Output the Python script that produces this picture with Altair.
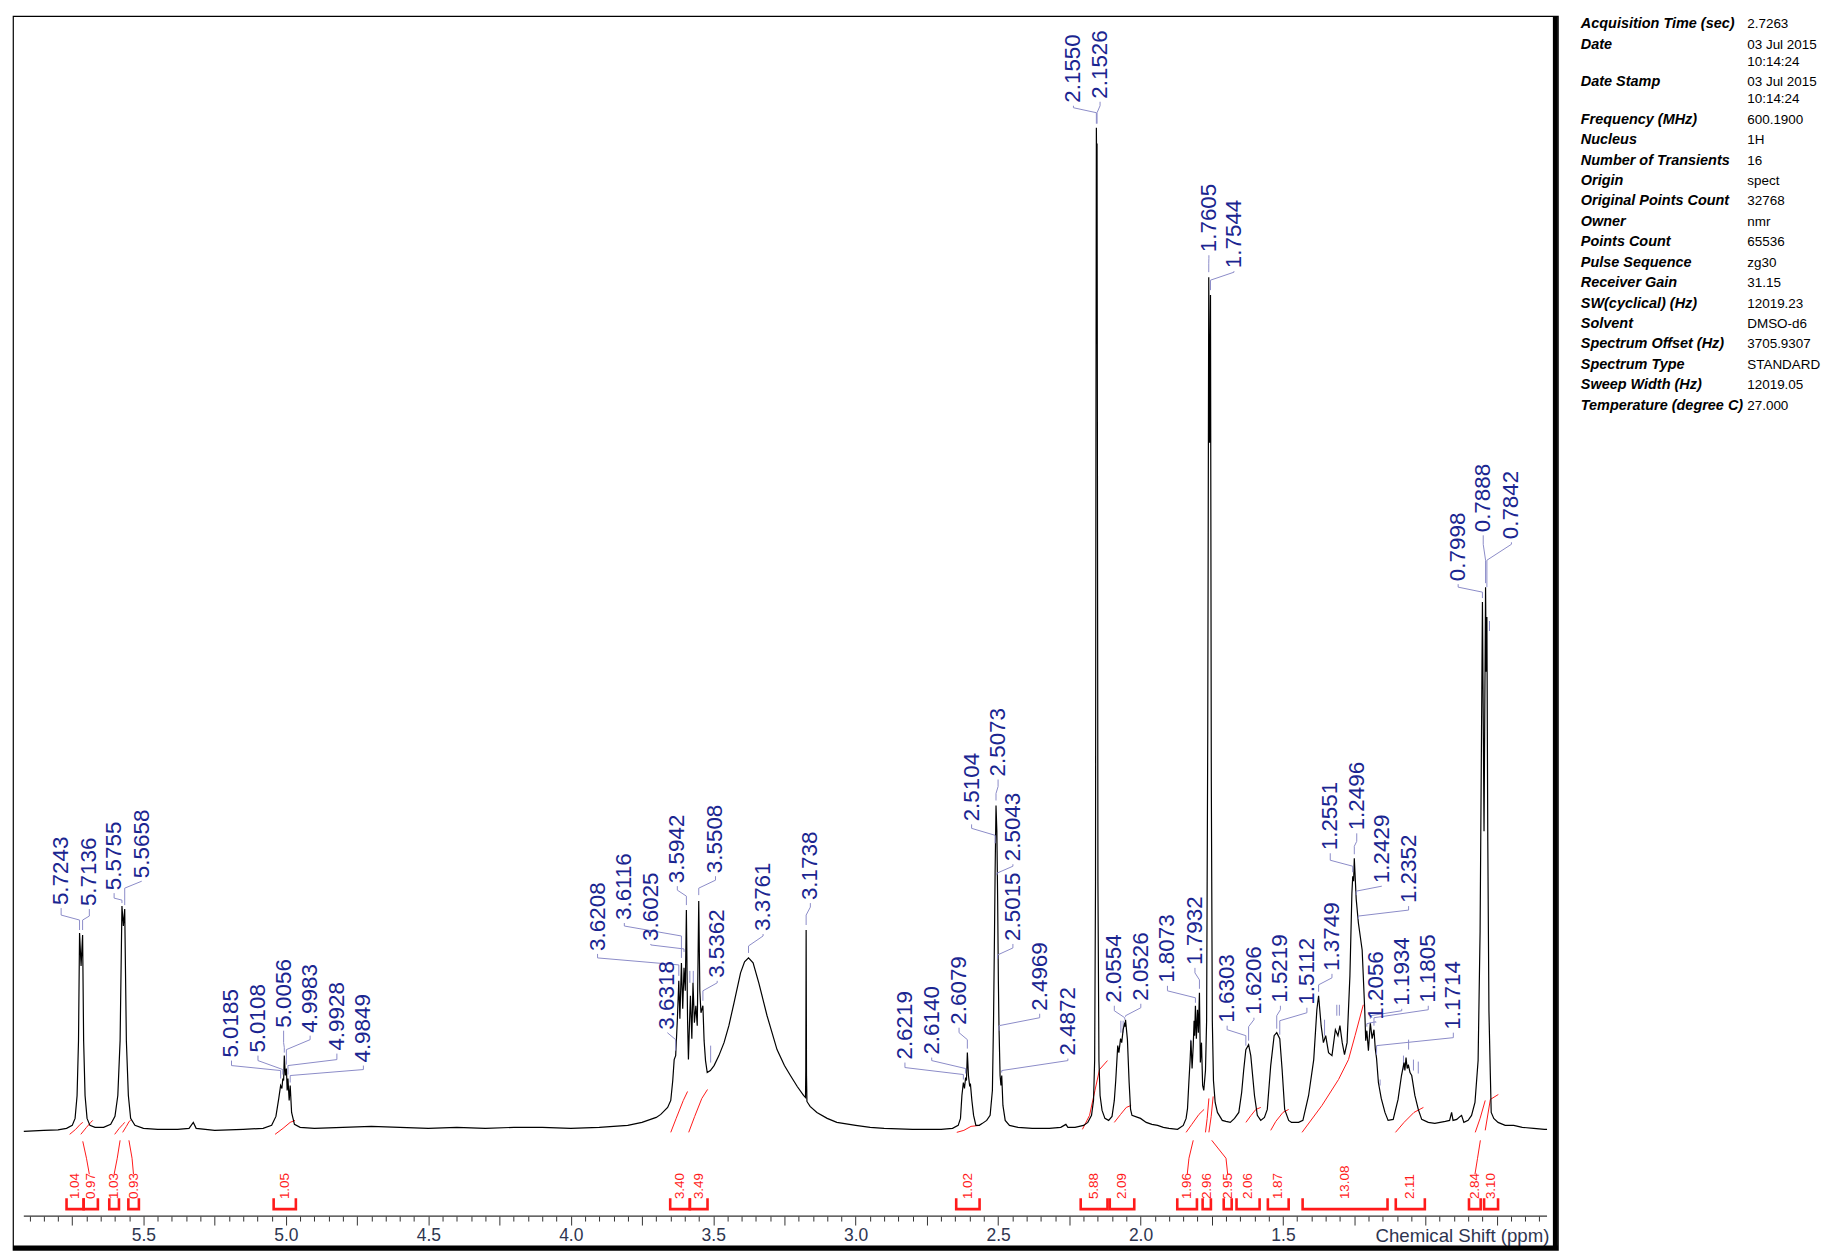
import altair as alt
import pandas as pd

# ---------------- spectrum trace (ppm, intensity) ----------------
spec_ppm = [5.920, 5.850, 5.800, 5.770, 5.750, 5.740, 5.733, 5.728, 5.7243, 5.7190, 5.7136, 5.7100,
            5.7050, 5.698, 5.688, 5.670, 5.640, 5.615, 5.600, 5.590, 5.582, 5.5755, 5.5705, 5.5658,
            5.560, 5.553, 5.545, 5.530, 5.500, 5.450, 5.380, 5.340, 5.325, 5.315, 5.250, 5.150,
            5.080, 5.050, 5.035, 5.025, 5.0185, 5.0140, 5.0108, 5.0080, 5.0056, 5.0020, 4.9983,
            4.9955, 4.9928, 4.9885, 4.9849, 4.9800, 4.9700, 4.950, 4.900, 4.800, 4.700, 4.600,
            4.500, 4.400, 4.300, 4.200, 4.100, 4.000, 3.900, 3.800, 3.750, 3.720, 3.700, 3.684,
            3.660, 3.649, 3.642, 3.637, 3.6318, 3.626, 3.6208, 3.617, 3.6116, 3.607, 3.6025,
            3.598, 3.5942, 3.590, 3.587, 3.583, 3.580, 3.575, 3.571, 3.566, 3.561, 3.556, 3.5508,
            3.547, 3.543, 3.5362, 3.532, 3.527, 3.521, 3.510, 3.497, 3.480, 3.462, 3.445, 3.427,
            3.404, 3.390, 3.3761, 3.360, 3.340, 3.311, 3.276, 3.250, 3.229, 3.205, 3.183, 3.176,
            3.1750, 3.1738, 3.1725, 3.171, 3.160, 3.136, 3.100, 3.066, 3.000, 2.949, 2.900, 2.800,
            2.700, 2.660, 2.640, 2.632, 2.627, 2.6219, 2.618, 2.6140, 2.611, 2.6079, 2.604, 2.600,
            2.597, 2.592, 2.586, 2.578, 2.566, 2.555, 2.540, 2.528, 2.520, 2.516, 2.5125, 2.5104,
            2.5073, 2.5043, 2.5015, 2.4990, 2.4969, 2.4930, 2.4900, 2.4872, 2.4830, 2.475, 2.460,
            2.430, 2.380, 2.320, 2.280, 2.262, 2.255, 2.230, 2.200, 2.185, 2.172, 2.165, 2.161,
            2.158, 2.1565, 2.1550, 2.1538, 2.1526, 2.1510, 2.1495, 2.146, 2.142, 2.135, 2.125,
            2.112, 2.100, 2.092, 2.087, 2.080, 2.076, 2.070, 2.066, 2.061, 2.0554, 2.054, 2.0526,
            2.046, 2.040, 2.035, 2.030, 2.010, 2.000, 1.980, 1.960, 1.940, 1.920, 1.900, 1.870,
            1.850, 1.840, 1.835, 1.830, 1.826, 1.823, 1.819, 1.815, 1.812, 1.810, 1.8073, 1.804,
            1.800, 1.797, 1.7932, 1.790, 1.786, 1.782, 1.778, 1.772, 1.768, 1.764, 1.7605, 1.7575,
            1.7544, 1.7515, 1.748, 1.744, 1.738, 1.730, 1.713, 1.700, 1.685, 1.670, 1.655, 1.645,
            1.638, 1.6303, 1.6206, 1.613, 1.600, 1.590, 1.578, 1.565, 1.555, 1.543, 1.531, 1.5219,
            1.5112, 1.503, 1.494, 1.480, 1.470, 1.445, 1.430, 1.410, 1.392, 1.381, 1.3749, 1.366,
            1.358, 1.350, 1.340, 1.328, 1.316, 1.307, 1.300, 1.292, 1.284, 1.275, 1.265, 1.258,
            1.2551, 1.2520, 1.2496, 1.2429, 1.2352, 1.222, 1.213, 1.2095, 1.2056, 1.200, 1.1934,
            1.187, 1.1805, 1.176, 1.1714, 1.165, 1.155, 1.142, 1.131, 1.113, 1.096, 1.084, 1.075,
            1.072, 1.068, 1.064, 1.060, 1.054, 1.048, 1.037, 1.025, 1.013, 0.990, 0.967, 0.930,
            0.915, 0.908, 0.903, 0.890, 0.878, 0.873, 0.865, 0.850, 0.838, 0.826, 0.815, 0.808,
            0.803, 0.7998, 0.7942, 0.7888, 0.7865, 0.7842, 0.7810, 0.777, 0.772, 0.769, 0.760,
            0.745, 0.720, 0.690, 0.660, 0.620, 0.582, 0.573]
spec_int = [-1, 0, 0.5, 2, 5, 12, 35, 90, 198, 165, 196, 90,
            35, 12, 5, 3, 3, 6, 14, 35, 90, 225, 205, 222,
            90, 35, 12, 5, 2, 1, 1, 2, 8, 2, 0, 1,
            2, 5, 14, 32, 45, 42, 52, 50, 75, 55, 62,
            40, 52, 30, 45, 18, 6, 3, 2, 3, 4, 3,
            2, 3, 2, 3, 3, 2, 3, 5, 8, 11, 13, 16,
            23, 30, 50, 71, 75, 110, 150, 112, 168, 122, 163,
            140, 221, 110, 71, 110, 135, 92, 148, 108, 125, 105, 230,
            140, 118, 125, 90, 70, 58, 60, 65, 75, 88, 105, 128,
            158, 169, 173, 168, 148, 115, 81, 65, 55, 44, 35, 33,
            60, 201, 55, 29, 24, 18, 12, 8, 5, 3, 2, 1,
            1, 2, 5, 12, 35, 48, 42, 53, 50, 78, 55, 45,
            46, 30, 15, 5, 5, 7, 10, 15, 40, 110, 200, 260,
            326, 300, 230, 150, 105, 55, 45, 55, 25, 10, 5,
            3, 2, 2, 3, 6, 3, 3, 5, 8, 15, 30, 70,
            250, 700, 1006, 960, 990, 600, 250, 70, 35, 20, 12,
            10, 14, 30, 50, 85, 78, 92, 88, 101, 108, 104, 111,
            91, 48, 21, 15, 13, 12, 8, 6, 5, 3, 2, 1,
            5, 12, 22, 50, 70, 90, 62, 85, 110, 95, 125, 92,
            121, 98, 138, 68, 88, 45, 40, 60, 110, 400, 856, 690,
            838, 350, 110, 50, 28, 18, 10, 9, 8, 12, 18, 38,
            60, 81, 86, 75, 35, 15, 10, 13, 21, 65, 95, 98,
            92, 61, 21, 10, 8, 8, 10, 35, 71, 121, 135, 105,
            88, 95, 78, 75, 101, 95, 105, 88, 76, 88, 155, 238,
            255, 250, 273, 232, 208, 181, 121, 90, 100, 80, 108,
            92, 101, 82, 72, 48, 32, 18, 10, 11, 31, 55, 68,
            60, 73, 62, 66, 58, 55, 35, 21, 11, 8, 7, 9,
            10, 18, 10, 11, 14, 15, 8, 10, 15, 28, 70, 200,
            400, 530, 300, 545, 460, 515, 290, 120, 55, 18, 12,
            8, 5, 5, 3, 2, 1, 1]

# ---------------- peak labels ----------------
peak_labels = ["5.7243", "5.7136", "5.5755", "5.5658", "5.0185", "5.0108", "5.0056", "4.9983",
               "4.9928", "4.9849", "3.6318", "3.6208", "3.6116", "3.6025", "3.5942", "3.5508",
               "3.5362", "3.3761", "3.1738", "2.6219", "2.6140", "2.6079", "2.5104", "2.5073",
               "2.5043", "2.5015", "2.4969", "2.4872", "2.1550", "2.1526", "2.0554", "2.0526",
               "1.8073", "1.7932", "1.7605", "1.7544", "1.6303", "1.6206", "1.5219", "1.5112",
               "1.3749", "1.2551", "1.2496", "1.2429", "1.2352", "1.2056", "1.1934", "1.1805",
               "1.1714", "0.7998", "0.7888", "0.7842"]
# label layout: text column (ppm), text bottom, leader elbows and leader end (intensity units)
label_col = [5.789, 5.690, 5.603, 5.506, 5.191, 5.098, 5.008, 4.915, 4.821, 4.728, 3.661, 3.906,
             3.812, 3.719, 3.626, 3.492, 3.486, 3.325, 3.159, 2.827, 2.733, 2.637, 2.593, 2.500,
             2.448, 2.448, 2.354, 2.255, 2.2355, 2.142, 2.092, 1.999, 1.9055, 1.809, 1.760, 1.672,
             1.696, 1.602, 1.509, 1.416, 1.328, 1.334, 1.241, 1.153, 1.059, 1.174, 1.083, 0.990,
             0.902, 0.885, 0.797, 0.698]
label_bottom = [226, 225, 241, 253, 73, 78, 103, 98, 80, 68, 101, 180, 211, 190, 248, 258, 153,
                200, 231, 71, 76, 106, 310, 355, 270, 190, 120, 75, 1031, 1035, 128, 130, 148,
                166, 881, 865, 108, 116, 128, 126, 160, 281, 301, 248, 228, 111, 125, 128, 101,
                551, 600, 593]
elbow_a = [216, 215, 233, 250, 65, 70, 88, 91, 71, 61, 98, 173, 205, 186, 241, 251, 148, 195,
           224, 63, 70, 98, 303, 345, 265, 183, 113, 70, 1026, 1028, 120, 123, 140, 158, 875,
           861, 101, 111, 121, 118, 153, 271, 290, 245, 221, 109, 120, 121, 93, 545, 588, 588]
elbow_b = [211, 211, 231, 243, 60, 61, 83, 81, 65, 55, 91, 166, 195, 182, 235, 243, 140, 185,
           216, 56, 62, 91, 296, 338, 258, 176, 105, 60, 1021, 1021, 113, 115, 133, 151, 870,
           853, 95, 104, 115, 110, 146, 265, 285, 240, 215, 107, 115, 113, 85, 540, 572, 572]
leader_end = [201, 201, 228, 226, 52, 56, 78, 66, 56, 48, 80, 155, 173, 179, 226, 236, 130, 178,
              206, 51, 57, 82, 288, 331, 256, 172, 100, 58, 1010, 1010, 111, 114, 128, 142, 861,
              843, 85, 90, 102, 96, 139, 259, 277, 236, 212, 104, 112, 105, 76, 534, 549, 545]

# unlabeled peak markers: ppm, lower and upper intensity of the small tick
marker_ppm = [3.582, 3.570, 3.509, 2.069, 2.061, 1.824, 1.354, 1.311, 1.302, 1.159, 1.077, 1.059,
              1.042, 1.025, 0.775]
marker_lo = [148, 148, 68, 98, 98, 75, 95, 115, 115, 45, 61, 81, 60, 57, 501]
marker_hi = [160, 160, 85, 110, 110, 91, 111, 126, 126, 51, 75, 91, 71, 69, 511]

# ---------------- integrations ----------------
integral_values = ["1.04", "0.97", "1.03", "0.93", "1.05", "3.40", "3.49", "1.02", "5.88", "2.09",
                   "1.96", "2.96", "2.95", "2.06", "1.87", "13.08", "2.11", "2.84", "3.10"]
integral_from = [5.770, 5.710, 5.620, 5.553, 5.043, 3.651, 3.582, 2.647, 2.210, 2.108, 1.871,
                 1.782, 1.708, 1.663, 1.553, 1.431, 1.104, 0.847, 0.794]
integral_to = [5.710, 5.660, 5.586, 5.516, 4.965, 3.582, 3.520, 2.565, 2.116, 2.022, 1.802,
               1.753, 1.680, 1.582, 1.480, 1.133, 1.002, 0.806, 0.745]
integral_curves = [
    [(5.759, -4), (5.738, 1), (5.722, 6), (5.713, 8)],
    [(5.720, -4), (5.700, 3), (5.685, 8), (5.678, 10)],
    [(5.601, -4), (5.585, 2), (5.572, 6), (5.566, 8)],
    [(5.573, -2), (5.560, 4), (5.550, 9), (5.545, 10)],
    [(5.038, -4), (5.010, 2), (4.985, 8), (4.968, 10)],
    [(3.649, -2), (3.630, 12), (3.605, 30), (3.590, 39)],
    [(3.586, -2), (3.565, 14), (3.540, 32), (3.520, 41)],
    [(2.645, -2), (2.620, 0), (2.595, 4), (2.564, 5)],
    [(2.204, 1), (2.179, 15), (2.160, 40), (2.144, 61), (2.116, 70)],
    [(2.092, 8), (2.070, 16), (2.050, 23), (2.033, 25)],
    [(1.840, -2), (1.820, 6), (1.795, 16), (1.777, 21)],
    [(1.772, -2), (1.766, 12), (1.760, 32)],
    [(1.760, -2), (1.752, 14), (1.745, 34)],
    [(1.630, 8), (1.612, 15), (1.595, 21), (1.578, 23)],
    [(1.543, 0), (1.525, 9), (1.500, 18), (1.480, 21)],
    [(1.433, -2), (1.363, 25), (1.305, 51), (1.270, 71), (1.247, 95), (1.218, 126)],
    [(1.105, -2), (1.075, 8), (1.040, 18), (1.007, 23)],
    [(0.825, -2), (0.808, 12), (0.790, 30)],
    [(0.790, 0), (0.772, 31), (0.744, 36)],
]
integral_leaders = [
    [(5.713, -11), (5.700, -28), (5.690, -44)],
    [(5.582, -10), (5.592, -28), (5.603, -44)],
    [(5.551, -10), (5.540, -28), (5.535, -44)],
    [(1.815, -10), (1.830, -28), (1.836, -44)],
    [(1.750, -10), (1.700, -28), (1.694, -44)],
    [(0.807, -10), (0.817, -28), (0.826, -44)],
]

# ---------------- acquisition parameters ----------------
param_names = ["Acquisition Time (sec)", "Date", "Date Stamp", "Frequency (MHz)", "Nucleus",
               "Number of Transients", "Origin", "Original Points Count", "Owner", "Points Count",
               "Pulse Sequence", "Receiver Gain", "SW(cyclical) (Hz)", "Solvent",
               "Spectrum Offset (Hz)", "Spectrum Type", "Sweep Width (Hz)", "Temperature (degree C)"]
param_values = ["2.7263", "03 Jul 2015\n10:14:24", "03 Jul 2015\n10:14:24", "600.1900", "1H", "16",
                "spect", "32768", "nmr", "65536", "zg30", "31.15", "12019.23", "DMSO-d6",
                "3705.9307", "STANDARD", "12019.05", "27.000"]

# ---------------- layout ----------------
W, H = 1550, 1238
X_DOM = [5.958, 0.535]
Y_DOM = [-120, 1118]
AXIS_Y = -86
BR_TOP, BR_BOT = -68, -79
SANS = "Liberation Sans, Arial, sans-serif"
BLUE = "#1a2590"
LEADER = "#8c8cc8"
RED = "#ff1a1a"
AXC = "#2e3550"

xs = alt.Scale(domain=X_DOM, nice=False, zero=False)
ys = alt.Scale(domain=Y_DOM, nice=False, zero=False)
tick_vals = [round(0.60 + 0.05 * i, 2) for i in range(107)]

AX = alt.Axis(
    values=tick_vals, domain=False, grid=False, offset=-(H - (Y_DOM[1] - AXIS_Y)),
    labelExpr="(abs(round(datum.value*100)) % 50 == 0 && datum.value > 1.2) ? format(datum.value, '.1f') : ''",
    tickSize={"condition": {"test": "abs(round(datum.value*100)) % 25 == 0", "value": 9}, "value": 5},
    tickColor="#333333", tickWidth=1,
    labelFont=SANS, labelFontSize=17.5, labelColor=AXC, labelBaseline="middle",
    labelPadding=11, labelOverlap=False, labelFlush=False,
    title="Chemical Shift (ppm)", titleFont=SANS, titleFontSize=18.7, titleFontWeight="normal",
    titleColor=AXC, titleAlign="right", titleBaseline="middle", titleX=1541, titleY=19.5,
)


def X(field="x"):
    return alt.X(f"{field}:Q", scale=xs, axis=AX)


def Y(field="y"):
    return alt.Y(f"{field}:Q", scale=ys, axis=None)


def poly_df(polys):
    rows = []
    for g, pts in enumerate(polys):
        for o, (px, py) in enumerate(pts):
            rows.append({"x": px, "y": py, "g": g, "o": o})
    return pd.DataFrame(rows)


spec_df = pd.DataFrame({"x": spec_ppm, "y": spec_int, "o": range(len(spec_ppm))})
spectrum = alt.Chart(spec_df).mark_line(color="black", strokeWidth=1.2).encode(
    x=X(), y=Y(), order="o:Q")

axis_df = pd.DataFrame({"x": [5.92], "x2": [0.573], "y": [AXIS_Y]})
axis_line = alt.Chart(axis_df).mark_rule(color="#333333", strokeWidth=1.2).encode(
    x=X(), x2="x2:Q", y=Y())

brackets = []
for a, b in zip(integral_from, integral_to):
    brackets.append([(a, BR_TOP), (a, BR_BOT), (b, BR_BOT), (b, BR_TOP)])
bracket_layer = alt.Chart(poly_df(brackets)).mark_line(color=RED, strokeWidth=2.6).encode(
    x=X(), y=Y(), detail="g:N", order="o:Q")

curve_layer = alt.Chart(poly_df(integral_curves)).mark_line(color=RED, strokeWidth=1).encode(
    x=X(), y=Y(), detail="g:N", order="o:Q")
ileader_layer = alt.Chart(poly_df(integral_leaders)).mark_line(color=RED, strokeWidth=1).encode(
    x=X(), y=Y(), detail="g:N", order="o:Q")

ilab_df = pd.DataFrame({"x": [(a + b) / 2 for a, b in zip(integral_from, integral_to)],
                        "y": [BR_TOP - 1] * len(integral_values), "t": integral_values})
ilab_layer = alt.Chart(ilab_df).mark_text(angle=270, align="left", baseline="middle", font=SANS,
                                          fontSize=13.5, color=RED).encode(x=X(), y=Y(), text="t:N")

leaders = []
for lab, cx, lb, ea, eb, en in zip(peak_labels, label_col, label_bottom, elbow_a, elbow_b, leader_end):
    p = float(lab)
    leaders.append([(cx, lb - 3), (cx, ea), (p, eb), (p, en)])
pleader_layer = alt.Chart(poly_df(leaders)).mark_line(color=LEADER, strokeWidth=1).encode(
    x=X(), y=Y(), detail="g:N", order="o:Q")

mk_df = pd.DataFrame({"x": marker_ppm, "y": marker_lo, "y2": marker_hi})
marker_layer = alt.Chart(mk_df).mark_rule(color=LEADER, strokeWidth=1).encode(
    x=X(), y=Y(), y2="y2:Q")

plab_df = pd.DataFrame({"x": label_col, "y": label_bottom, "t": peak_labels})
plab_layer = alt.Chart(plab_df).mark_text(angle=270, align="left", baseline="middle", font=SANS,
                                          fontSize=22.5, color=BLUE).encode(x=X(), y=Y(), text="t:N")

one = pd.DataFrame({"a": [0]})
shadow_r = alt.Chart(one).mark_rule(color="black", strokeWidth=5).encode(
    x=alt.value(W - 2.5), y=alt.value(0), y2=alt.value(H))
shadow_b = alt.Chart(one).mark_rule(color="black", strokeWidth=4.5).encode(
    x=alt.value(0), x2=alt.value(W), y=alt.value(H - 2.25))

left = alt.layer(axis_line, curve_layer, ileader_layer, bracket_layer, ilab_layer, marker_layer,
                 spectrum, pleader_layer, plab_layer, shadow_r, shadow_b).properties(
    width=W, height=H, view=alt.ViewBackground(stroke="black", strokeWidth=1.2))

# info table
rows = []
ytop = 1.5
for name, val in zip(param_names, param_values):
    rows.append({"c": 0, "y": ytop, "t": name, "kind": "k"})
    rows.append({"c": 1, "y": ytop, "t": val, "kind": "v"})
    ytop += 20.5 + 17 * val.count("\n")
info_df = pd.DataFrame(rows)
IH = 430
RW = 240
ix = alt.X("c:Q", scale=alt.Scale(domain=[0, 1], range=[0, 167]), axis=None)
iy = alt.Y("y:Q", scale=alt.Scale(domain=[0, IH], range=[0, IH]), axis=None)
keys = alt.Chart(info_df).transform_filter("datum.kind == 'k'").mark_text(
    align="left", baseline="top", font=SANS, fontSize=14.5, fontStyle="italic", fontWeight="bold",
    color="black").encode(x=ix, y=iy, text="t:N")
vals = alt.Chart(info_df).transform_filter("datum.kind == 'v'").mark_text(
    align="left", baseline="top", font=SANS, fontSize=13.5, lineBreak="\n", lineHeight=17,
    color="black").encode(x=ix, y=iy, text="t:N")
right = alt.layer(keys, vals).properties(width=RW, height=IH,
                                         view=alt.ViewBackground(stroke="transparent"))

chart = alt.hconcat(left, right, spacing=19).properties(
    padding={"left": 2, "top": 2, "right": 0, "bottom": 0}, background="white")

chart.save("out.html", embed_options={"renderer": "svg", "actions": False})
